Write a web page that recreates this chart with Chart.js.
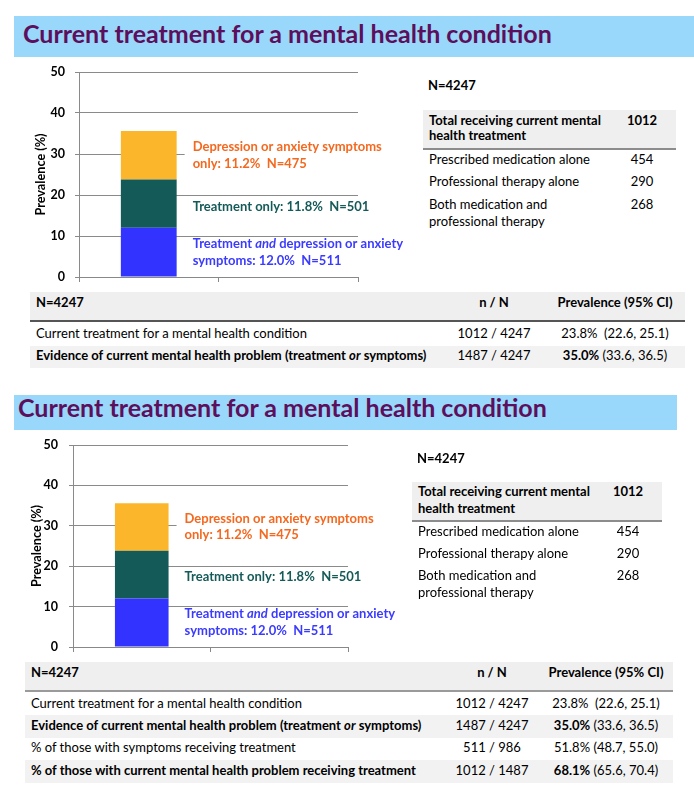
<!DOCTYPE html>
<html>
<head>
<meta charset="utf-8">
<script src="https://cdn.jsdelivr.net/npm/chart.js@4.4.1/dist/chart.umd.min.js"></script>
<style>
  body { margin: 0; background: #fff; font-family: Lato, sans-serif; color: #000; }
  #page { position: relative; width: 694px; height: 793px; overflow: hidden; }
  .abs { position: absolute; }
  .t { position: absolute; white-space: pre; line-height: 1.2; }
  .title { position: absolute; white-space: pre; font-weight: 700; color: #5c0f5c; line-height: 1.2; }
  canvas { position: absolute; }
</style>
</head>
<body>
<div id="page"></div>
<script>
// chart data
const categories = ['', ''];
const segmentLabels = ['Treatment *and* depression or anxiety|symptoms', 'Treatment only', 'Depression or anxiety symptoms|only'];
const segmentHeights = [12.0, 11.8, 11.8];   // heights as drawn in the picture
const segmentPct = [12.0, 11.8, 11.2];       // percentages as printed in the labels
const segmentN = [511, 501, 475];
const yTicks = [0, 10, 20, 30, 40, 50];
const titleText = 'Current treatment for a mental health condition';

// side table
const totalN = 4247;
const treatmentHeader = 'Total receiving current mental|health treatment';
const treatmentTotal = 1012;
const treatmentTypes = ['Prescribed medication alone', 'Professional therapy alone', 'Both medication and|professional therapy'];
const treatmentCounts = [454, 290, 268];

// summary table
const summaryLabels = [
  'Current treatment for a mental health condition',
  'Evidence of current mental health problem (treatment *or* symptoms)',
  '% of those with symptoms receiving treatment',
  '% of those with current mental health problem receiving treatment'
];
const summaryNum = [1012, 1487, 511, 1012];
const summaryDen = [4247, 4247, 986, 1487];
const summaryPrev = [23.8, 35.0, 51.8, 68.1];
const summaryLow = [22.6, 33.6, 48.7, 65.6];
const summaryHigh = [25.1, 36.5, 55.0, 70.4];
const summaryBold = [false, true, false, true];
const prevSpacing = [2, 1, 1, 1];

// colours
const segmentColors = ['#3333ff', '#145a58', '#fbb62b'];
const labelColors = ['#3b3bff', '#145a58', '#f4691f'];

// layout of the two copies of the slide
const panels = [
  {
    title: { x: 14, y: 16, w: 680, h: 41, tx: 23, base: 43, fs: 25 },
    chart: { box: { left: 0, top: 60, w: 420, h: 228 }, area: { left: 79, top: 72, right: 358, bottom: 277 },
             titleX: 41, tickRight: 65, barPct: 0.40, dy: [0, 3, 0] },
    side: { nx: 428, ny: 87, hx: 423, hy: 110, hw: 253, hh: 39, hl: [122, 137], tx: 429, vx: 642, rows: [161, 183, 206] },
    table: { x: 30, w: 655, hy: 292, hh: 29, hcy: 304, rowTop: 322, rowH: 22.5, c1: 36, c2: 494, c3: 615, rows: 2, line: '#555' }
  },
  {
    title: { x: 14, y: 395, w: 663, h: 35, tx: 18, base: 417, fs: 25 },
    chart: { box: { left: 0, top: 432, w: 420, h: 226 }, area: { left: 73, top: 445, right: 348, bottom: 647 },
             titleX: 37, tickRight: 58, barPct: 0.39, dy: [0, 2.5, 0] },
    side: { nx: 417, ny: 460, hx: 412, hy: 482, hw: 250, hh: 39, hl: [493, 510], tx: 418, vx: 628, rows: [533, 555, 577] },
    table: { x: 25, w: 648, hy: 662, hh: 29, hcy: 674, rowTop: 692, rowH: 22.4, c1: 31, c2: 492, c3: 606, rows: 4, line: '#9a9a9a' }
  }
];

const page = document.getElementById('page');
const FS = 13;
const LABEL_FONT = 13;

function rich(s) {
  return s.replace(/\*(.+?)\*/g, '<i>$1</i>');
}

function box(x, y, w, h, color) {
  const d = document.createElement('div');
  d.className = 'abs';
  Object.assign(d.style, { left: x + 'px', top: y + 'px', width: w + 'px', height: h + 'px', background: color });
  page.appendChild(d);
  return d;
}

// text placed by its visual middle (cy)
function txt(html, x, cy, opts = {}) {
  const fs = opts.fs || FS;
  const d = document.createElement('div');
  d.className = 't';
  d.innerHTML = html;
  d.style.fontSize = fs + 'px';
  d.style.top = (cy - 0.66 * fs) + 'px';
  d.style.left = x + 'px';
  if (opts.bold) d.style.fontWeight = '700';
  if (opts.center) d.style.transform = 'translateX(-50%)';
  page.appendChild(d);
  return d;
}

// bar segment labels drawn next to each stacked piece
const segLabels = {
  id: 'segLabels',
  afterDatasetsDraw(chart) {
    const { ctx } = chart;
    const o = chart.options.plugins.segLabels;
    const lh = 16.5;
    const fontFor = k => (k % 2 ? 'italic ' : '') + 'bold ' + LABEL_FONT + 'px Lato';
    segmentPct.forEach((v, i) => {
      const bar = chart.getDatasetMeta(i).data[0];
      const x = bar.x + bar.width / 2 + 16;
      const midY = (bar.y + bar.base) / 2 + (o.dy[i] || 0);
      const lines = (segmentLabels[i] + ': ' + v.toFixed(1) + '%  N=' + segmentN[i]).split('|');
      const top = midY - lines.length * lh / 2;
      ctx.save();
      // white backing hides the gridline behind the text
      let maxW = 0;
      lines.forEach(line => {
        let w = 0;
        line.split('*').forEach((part, k) => {
          ctx.font = fontFor(k);
          w += ctx.measureText(part).width;
        });
        maxW = Math.max(maxW, w);
      });
      ctx.fillStyle = '#fff';
      ctx.fillRect(x - 8, top + 2, maxW + 10, lines.length * lh - 4);
      ctx.fillStyle = labelColors[i];
      ctx.textBaseline = 'middle';
      lines.forEach((line, j) => {
        let cx = x;
        const cy = top + lh * (j + 0.5);
        line.split('*').forEach((part, k) => {
          ctx.font = fontFor(k);
          ctx.fillText(part, cx, cy);
          cx += ctx.measureText(part).width;
        });
      });
      ctx.restore();
    });
  }
};

function drawChart(L) {
  const c = document.createElement('canvas');
  c.width = L.box.w;
  c.height = L.box.h;
  Object.assign(c.style, { left: L.box.left + 'px', top: L.box.top + 'px', width: L.box.w + 'px', height: L.box.h + 'px' });
  page.appendChild(c);

  const xH = 8;
  const yW = L.area.left - L.box.left;
  const titleFont = 12.7;

  new Chart(c.getContext('2d'), {
    type: 'bar',
    data: {
      labels: categories,
      datasets: segmentHeights.map((v, i) => ({
        label: segmentLabels[i],
        data: [v, null],
        backgroundColor: segmentColors[i],
        borderWidth: 0,
        barPercentage: L.barPct,
        categoryPercentage: 1
      }))
    },
    options: {
      responsive: false,
      animation: false,
      layout: {
        padding: {
          top: L.area.top - L.box.top,
          right: L.box.left + L.box.w - L.area.right,
          bottom: L.box.top + L.box.h - L.area.bottom - xH,
          left: 0
        }
      },
      plugins: {
        legend: { display: false },
        tooltip: { enabled: false },
        segLabels: { dy: L.dy }
      },
      scales: {
        x: {
          stacked: true,
          grid: { display: true, drawOnChartArea: false, color: '#888', tickLength: 5 },
          border: { color: '#888' },
          ticks: { display: false },
          afterFit(s) { s.height = xH; s.paddingLeft = 0; s.paddingRight = 0; }
        },
        y: {
          stacked: true,
          min: yTicks[0],
          max: yTicks[yTicks.length - 1],
          ticks: {
            stepSize: yTicks[1] - yTicks[0],
            padding: L.area.left - L.tickRight - 4,
            color: '#000',
            font: { family: 'Lato', weight: 'bold', size: 12.5 }
          },
          grid: { color: '#8a8a8a', tickLength: 4 },
          border: { color: '#8a8a8a' },
          title: {
            display: true,
            text: 'Prevalence (%)',
            color: '#000',
            font: { family: 'Lato', weight: 'bold', size: titleFont },
            padding: { top: L.titleX - titleFont * 0.6, bottom: 0 }
          },
          afterFit(s) { s.width = yW; s.paddingTop = 0; s.paddingBottom = 0; }
        }
      }
    },
    plugins: [segLabels]
  });
}

panels.forEach(p => {
  // heading bar
  const T = p.title;
  box(T.x, T.y, T.w, T.h, '#99d8fa');
  const h = document.createElement('div');
  h.className = 'title';
  h.textContent = titleText;
  h.style.fontSize = T.fs + 'px';
  h.style.left = T.tx + 'px';
  h.style.top = (T.base - 0.987 * T.fs) + 'px';
  page.appendChild(h);

  drawChart(p.chart);

  // side table: treatment breakdown
  const S = p.side;
  txt('N=' + totalN, S.nx, S.ny, { bold: true });
  box(S.hx, S.hy, S.hw, S.hh, '#efefef');
  box(S.hx, S.hy + S.hh - 1, S.hw, 2, '#8c8c8c');
  treatmentHeader.split('|').forEach((line, j) => txt(line, S.tx, S.hl[j], { bold: true }));
  txt(String(treatmentTotal), S.vx, S.hl[0], { bold: true, center: true });
  treatmentTypes.forEach((t, i) => {
    t.split('|').forEach((line, j) => txt(line, S.tx, S.rows[i] + 17 * j));
    txt(String(treatmentCounts[i]), S.vx, S.rows[i], { center: true });
  });

  // summary table
  const B = p.table;
  box(B.x, B.hy, B.w, B.hh, '#efefef');
  box(B.x, B.hy + B.hh - 1, B.w, 2, B.line);
  txt('N=' + totalN, B.c1, B.hcy, { bold: true });
  txt('n / N', B.c2, B.hcy, { bold: true, center: true });
  txt('Prevalence (95% CI)', B.c3, B.hcy, { bold: true, center: true });
  for (let i = 0; i < B.rows; i++) {
    const top = B.rowTop + i * B.rowH;
    if (i % 2 === 1) box(B.x, top + 1, B.w, B.rowH, '#f2f2f2');
    const cy = top + B.rowH / 2 + 1;
    txt(rich(summaryLabels[i]), B.c1, cy, { bold: summaryBold[i] });
    txt(summaryNum[i] + ' / ' + summaryDen[i], B.c2, cy, { center: true });
    const pct = summaryPrev[i].toFixed(1) + '%';
    const ci = ' '.repeat(prevSpacing[i]) + '(' + summaryLow[i].toFixed(1) + ', ' + summaryHigh[i].toFixed(1) + ')';
    txt((summaryBold[i] ? '<b>' + pct + '</b>' : pct) + ci, B.c3, cy, { center: true });
  }
});
</script>
</body>
</html>
